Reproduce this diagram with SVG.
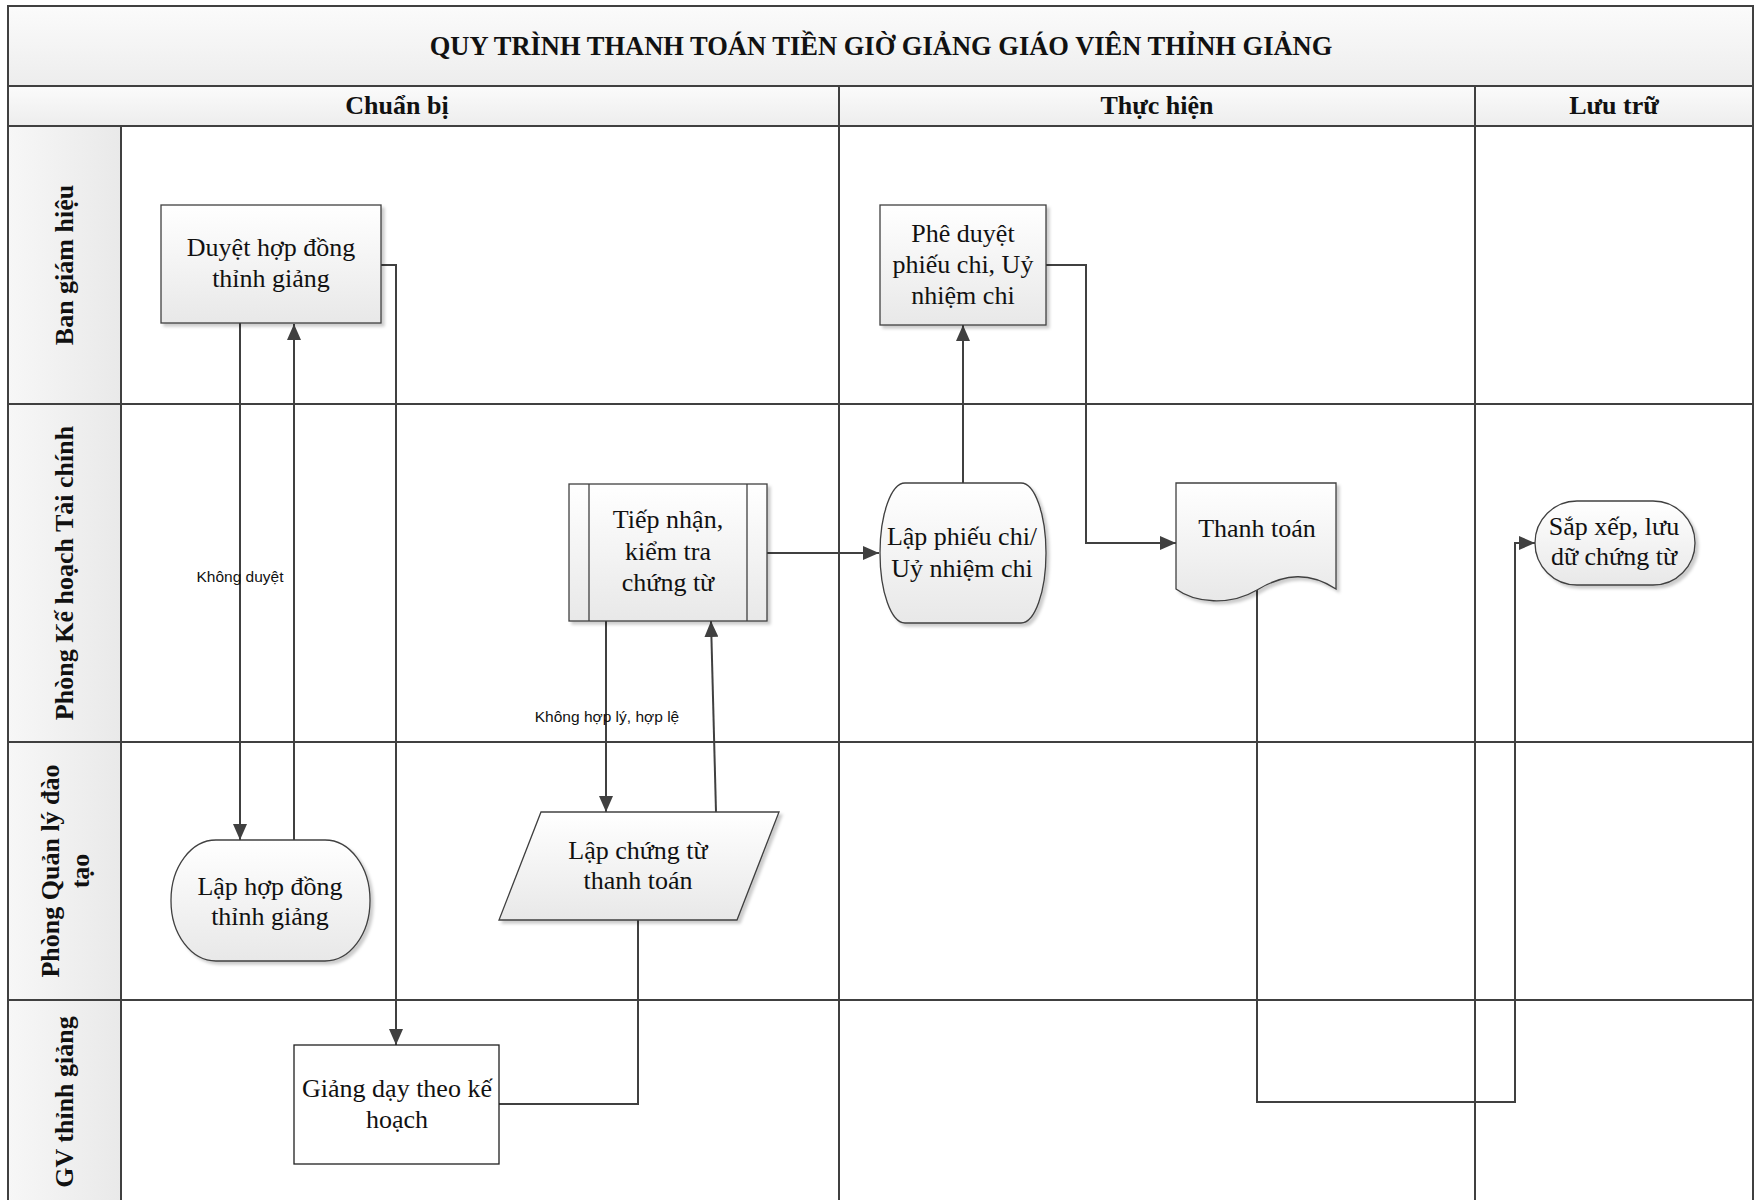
<svg xmlns="http://www.w3.org/2000/svg" width="1761" height="1200" viewBox="0 0 1761 1200">
<style>
.frame{fill:none;stroke:#404040;stroke-width:2}
.grid{stroke:#404040;stroke-width:2;fill:none}
.node{fill:url(#ng);stroke:#404040;stroke-width:1.3;filter:url(#sh)}
.plain{fill:#ffffff;stroke:#202020;stroke-width:1.3}
.t{font-family:"Liberation Serif","Times New Roman",serif;font-size:26px;fill:#111;text-anchor:middle}
.h{font-family:"Liberation Serif","Times New Roman",serif;font-size:26px;font-weight:bold;fill:#111;text-anchor:middle}
.title{font-size:26.5px}
.lbl{font-family:"Liberation Sans",Arial,sans-serif;font-size:15.5px;fill:#111;text-anchor:middle}
.c{fill:none;stroke:#404040;stroke-width:2}
.ca{fill:none;stroke:#404040;stroke-width:2;marker-end:url(#ah)}
</style>
<defs>
<linearGradient id="ng" x1="0" y1="0" x2="0" y2="1">
<stop offset="0" stop-color="#ffffff"/>
<stop offset="1" stop-color="#e8e8e8"/>
</linearGradient>
<linearGradient id="bg" x1="0" y1="0" x2="0" y2="1">
<stop offset="0" stop-color="#fbfbfb"/>
<stop offset="1" stop-color="#ededed"/>
</linearGradient>
<linearGradient id="lg" x1="0" y1="0" x2="1" y2="0">
<stop offset="0" stop-color="#f7f7f7"/>
<stop offset="1" stop-color="#e9e9e9"/>
</linearGradient>
<filter id="sh" x="-10%" y="-10%" width="125%" height="125%">
<feDropShadow dx="3" dy="3" stdDeviation="1.5" flood-color="#000" flood-opacity="0.2"/>
</filter>
<marker id="ah" markerUnits="userSpaceOnUse" markerWidth="16" markerHeight="14" refX="16" refY="7" orient="auto">
<path d="M0,0 L16,7 L0,14 z" fill="#404040"/>
</marker>
</defs>

<g id="pool">
<rect x="8" y="6" width="1745" height="80" fill="url(#bg)"/>
<rect x="8" y="86" width="1745" height="40" fill="url(#bg)"/>
<rect x="8" y="126" width="113" height="1080" fill="url(#lg)"/>
<rect x="8" y="6" width="1745" height="1200" class="frame"/>
<line x1="8" y1="86" x2="1753" y2="86" class="grid"/>
<line x1="8" y1="126" x2="1753" y2="126" class="grid"/>
<line x1="8" y1="404" x2="1753" y2="404" class="grid"/>
<line x1="8" y1="742" x2="1753" y2="742" class="grid"/>
<line x1="8" y1="1000" x2="1753" y2="1000" class="grid"/>
<line x1="121" y1="126" x2="121" y2="1206" class="grid"/>
<line x1="839" y1="86" x2="839" y2="1206" class="grid"/>
<line x1="1475" y1="86" x2="1475" y2="1206" class="grid"/>
<text class="h title" x="881" y="55">QUY TRÌNH THANH TOÁN TIỀN GIỜ GIẢNG GIÁO VIÊN THỈNH GIẢNG</text>
<text class="h" x="397" y="114">Chuẩn bị</text>
<text class="h" x="1157" y="114">Thực hiện</text>
<text class="h" x="1614" y="114">Lưu trữ</text>
<text class="h" transform="translate(64,265) rotate(-90)" x="0" y="9">Ban giám hiệu</text>
<text class="h" transform="translate(64,573) rotate(-90)" x="0" y="9">Phòng Kế hoạch  Tài chính</text>
<text class="h" transform="translate(65,871) rotate(-90)" x="0" y="-6">Phòng Quản lý đào</text>
<text class="h" transform="translate(65,871) rotate(-90)" x="0" y="24">tạo</text>
<text class="h" transform="translate(64,1102) rotate(-90)" x="0" y="9">GV thỉnh giảng</text>
</g>

<g id="connectors">
<path class="ca" d="M240,323 V840"/>
<path class="ca" d="M294,840 V324"/>
<path class="ca" d="M381,265 H396 V1045"/>
<path class="c" d="M499,1104 H638 V920"/>
<path class="ca" d="M716,812 L711,621"/>
<path class="ca" d="M606,621 V812"/>
<path class="ca" d="M767,553 H879"/>
<path class="ca" d="M963,483 V325"/>
<path class="ca" d="M1046,265 H1086 V543 H1176"/>
<path class="ca" d="M1257,590 V1102 H1515 V543 H1535"/>
<text class="lbl" x="240" y="582">Không duyệt</text>
<text class="lbl" x="607" y="722">Không hợp lý, hợp lệ</text>
</g>

<g id="n-duyet">
<rect class="node" x="161" y="205" width="220" height="118"/>
<text class="t" x="271" y="256">Duyệt hợp đồng</text>
<text class="t" x="271" y="287">thỉnh giảng</text>
</g>

<g id="n-pheduyet">
<rect class="node" x="880" y="205" width="166" height="120"/>
<text class="t" x="963" y="242">Phê duyệt</text>
<text class="t" x="963" y="273">phiếu chi, Uỷ</text>
<text class="t" x="963" y="304">nhiệm chi</text>
</g>

<g id="n-tiepnhan">
<rect class="node" x="569" y="484" width="198" height="137"/>
<line x1="589" y1="484" x2="589" y2="621" stroke="#404040" stroke-width="1.3"/>
<line x1="747" y1="484" x2="747" y2="621" stroke="#404040" stroke-width="1.3"/>
<text class="t" x="668" y="528">Tiếp nhận,</text>
<text class="t" x="668" y="560">kiểm tra</text>
<text class="t" x="668" y="591">chứng từ</text>
</g>

<g id="n-lapphieuchi">
<rect class="node" x="880" y="483" width="166" height="140" rx="25" ry="70"/>
<text class="t" x="962" y="545">Lập phiếu chi/</text>
<text class="t" x="962" y="577">Uỷ nhiệm chi</text>
</g>

<g id="n-thanhtoan">
<path class="node" d="M1176,483 H1336 V589 C1310,572 1285,573 1257,590 C1230,606 1195,603 1176,589 Z"/>
<text class="t" x="1257" y="537">Thanh toán</text>
</g>

<g id="n-sapxep">
<rect class="node" x="1535" y="501" width="160" height="84" rx="42" ry="42"/>
<text class="t" x="1614" y="535">Sắp xếp, lưu</text>
<text class="t" x="1614" y="565">dữ chứng từ</text>
</g>

<g id="n-laphopdong">
<rect class="node" x="171" y="840" width="199" height="121" rx="45" ry="60"/>
<text class="t" x="270" y="895">Lập hợp đồng</text>
<text class="t" x="270" y="925">thỉnh giảng</text>
</g>

<g id="n-lapchungtu">
<polygon class="node" points="541,812 779,812 737,920 499,920"/>
<text class="t" x="638" y="859">Lập chứng từ</text>
<text class="t" x="638" y="889">thanh toán</text>
</g>

<g id="n-giangday">
<rect class="plain" x="294" y="1045" width="205" height="119"/>
<text class="t" x="397" y="1097">Giảng dạy theo kế</text>
<text class="t" x="397" y="1128">hoạch</text>
</g>
</svg>
